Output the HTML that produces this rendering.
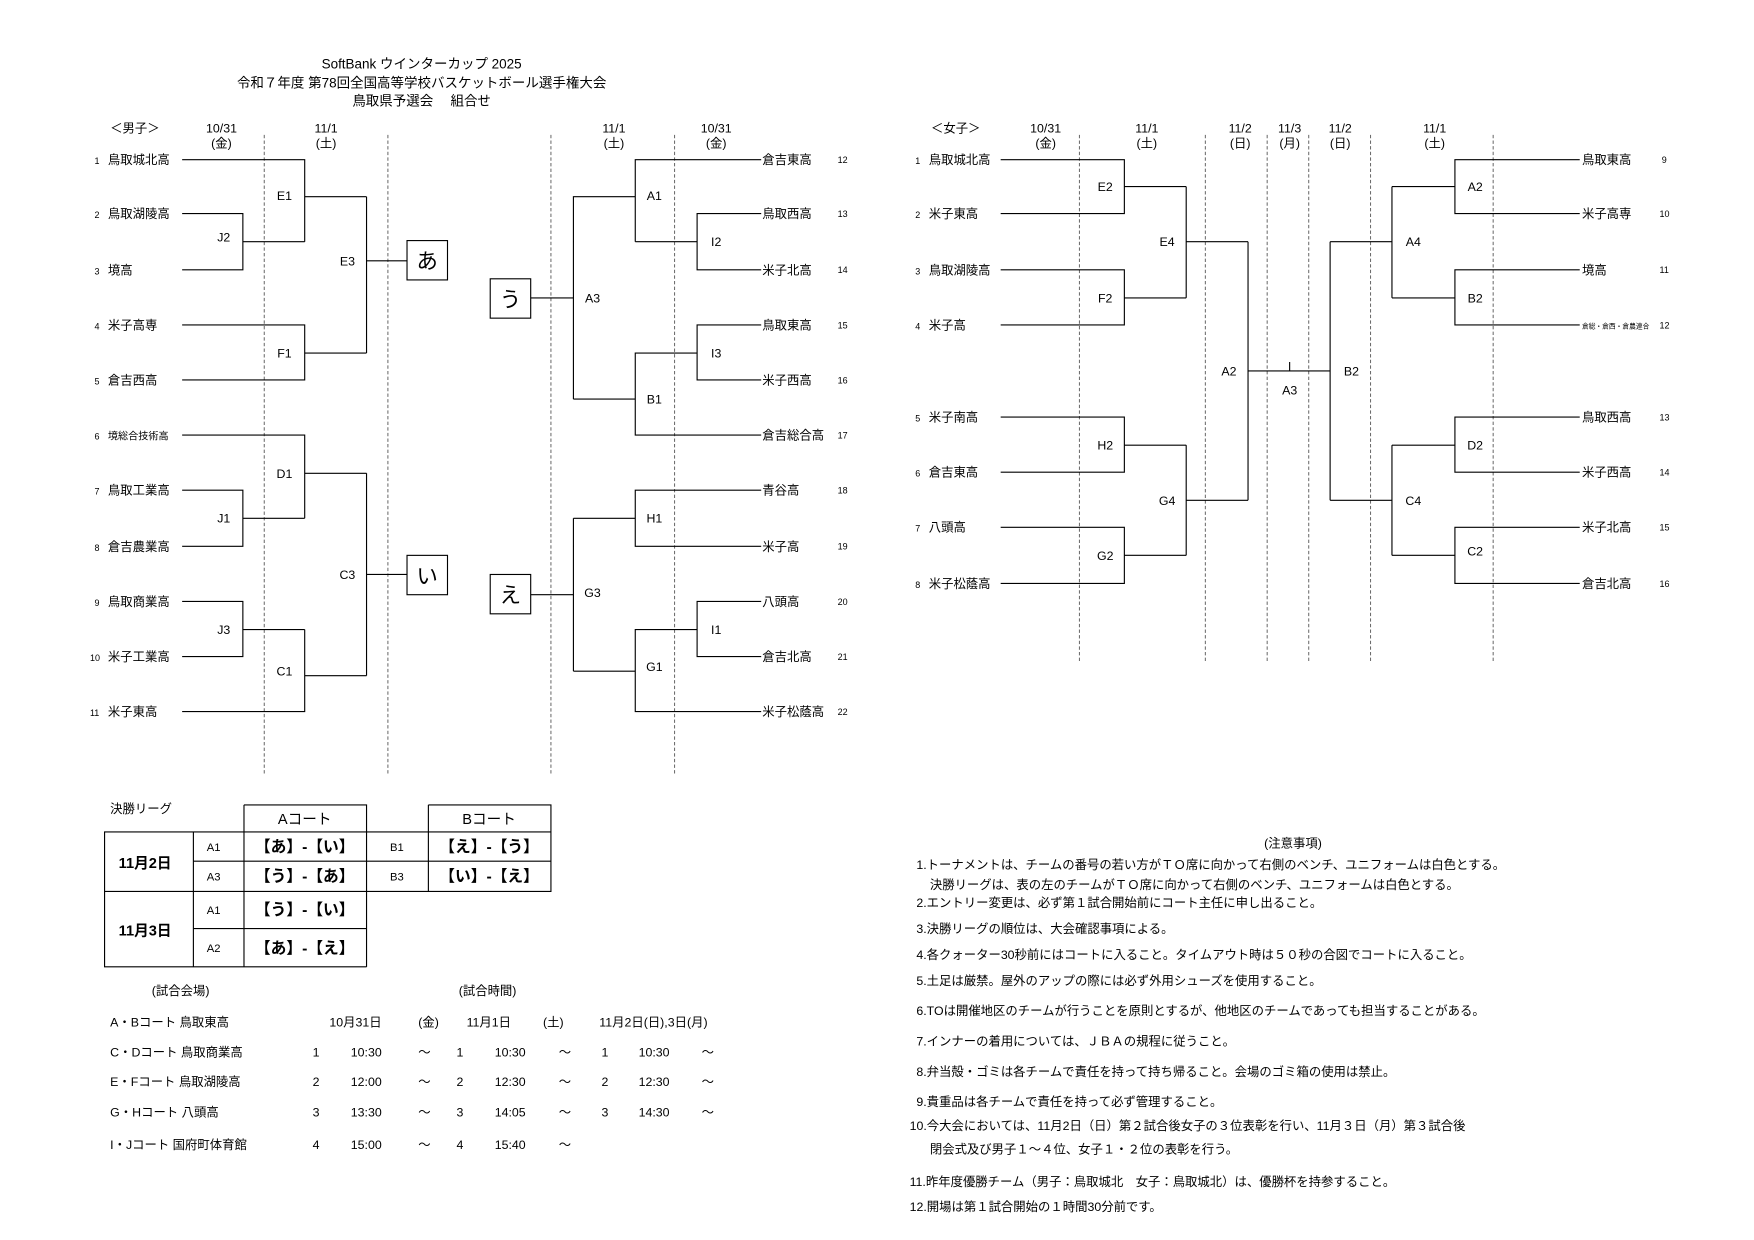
<!DOCTYPE html>
<html><head><meta charset="utf-8"><style>
html,body{margin:0;padding:0;background:#fff;}
svg{display:block}
text{font-family:"Liberation Sans","Noto Sans CJK JP",sans-serif;fill:#000;}
.s{font-size:11px}
.t{font-size:10px}
.m{font-size:8px}
.l{stroke:#000;stroke-width:1;fill:none}
.d{stroke:#555;stroke-width:0.8;stroke-dasharray:3,2;fill:none}
</style></head><body>
<svg width="1754" height="1240" viewBox="0 0 1560 1103" preserveAspectRatio="none" xmlns="http://www.w3.org/2000/svg">
<g text-anchor="middle" font-size="12">
<text x="375" y="61">SoftBank ウインターカップ 2025</text>
<text x="375" y="78">令和７年度 第78回全国高等学校バスケットボール選手権大会</text>
<text x="375" y="94">鳥取県予選会　 組合せ</text>
</g>
<!-- men headers -->
<g class="s" text-anchor="middle">
<text x="120" y="118">＜男子＞</text>
<text x="197" y="118">10/31</text><text x="197" y="131">(金)</text>
<text x="290" y="118">11/1</text><text x="290" y="131">(土)</text>
<text x="546" y="118">11/1</text><text x="546" y="131">(土)</text>
<text x="637" y="118">10/31</text><text x="637" y="131">(金)</text>
</g>
<g class="d">
<line x1="235" y1="120" x2="235" y2="690"/><line x1="345" y1="120" x2="345" y2="690"/>
<line x1="490" y1="120" x2="490" y2="690"/><line x1="600" y1="120" x2="600" y2="690"/>
</g>
<!-- men left -->
<g class="s">
<text x="84" y="146" class="m">1</text><text x="96" y="146">鳥取城北高</text>
<text x="84" y="194" class="m">2</text><text x="96" y="194">鳥取湖陵高</text>
<text x="84" y="244" class="m">3</text><text x="96" y="244">境高</text>
<text x="84" y="293" class="m">4</text><text x="96" y="293">米子高専</text>
<text x="84" y="342" class="m">5</text><text x="96" y="342">倉吉西高</text>
<text x="84" y="391" class="m">6</text><text x="96" y="391" font-size="9">境総合技術高</text>
<text x="84" y="440" class="m">7</text><text x="96" y="440">鳥取工業高</text>
<text x="84" y="490" class="m">8</text><text x="96" y="490">倉吉農業高</text>
<text x="84" y="539" class="m">9</text><text x="96" y="539">鳥取商業高</text>
<text x="80" y="588" class="m">10</text><text x="96" y="588">米子工業高</text>
<text x="80" y="637" class="m">11</text><text x="96" y="637">米子東高</text>
</g>
<path class="l" d="M162 142H271V215 M162 190H216V240H162 M216 215H271 M271 175H326 M162 289H271V338H162 M271 314H326 M326 175V314 M326 232H362
M162 387H271V461 M162 436H216V486H162 M216 461H271 M271 421H326
M162 535H216V584H162 M216 560H271 M162 633H271V560 M271 601H326 M326 421V601 M326 511H362"/>
<rect x="362" y="214" width="36" height="35" class="l"/>
<rect x="362" y="494" width="36" height="35" class="l"/>
<text x="380" y="239" font-size="19" text-anchor="middle">あ</text>
<text x="380" y="519" font-size="19" text-anchor="middle">い</text>
<g class="s" text-anchor="middle">
<text x="253" y="178">E1</text><text x="199" y="215">J2</text><text x="309" y="236">E3</text><text x="253" y="318">F1</text>
<text x="253" y="425">D1</text><text x="199" y="465">J1</text><text x="309" y="515">C3</text><text x="199" y="564">J3</text><text x="253" y="601">C1</text>
</g>
<!-- men right -->
<path class="l" d="M677 142H565V215 M677 190H620V240H677 M620 215H565 M565 175H510V355 M677 289H620V338H677 M620 314H565V387H677 M565 355H510 M472 265H510
M677 436H565V486H677 M565 461H510 M677 535H620V584H677 M620 560H565V633H677 M565 597H510 M510 461V597 M472 529H510"/>
<rect x="436" y="248" width="36" height="35" class="l"/>
<rect x="436" y="511" width="36" height="35" class="l"/>
<text x="454" y="273" font-size="19" text-anchor="middle">う</text>
<text x="454" y="536" font-size="19" text-anchor="middle">え</text>
<g class="s" text-anchor="middle">
<text x="582" y="178">A1</text><text x="637" y="219">I2</text><text x="527" y="269">A3</text><text x="637" y="318">I3</text><text x="582" y="359">B1</text>
<text x="582" y="465">H1</text><text x="527" y="531">G3</text><text x="637" y="564">I1</text><text x="582" y="597">G1</text>
</g>
<g class="s">
<text x="678" y="146">倉吉東高</text><text x="678" y="194">鳥取西高</text><text x="678" y="244">米子北高</text><text x="678" y="293">鳥取東高</text>
<text x="678" y="342">米子西高</text><text x="678" y="391">倉吉総合高</text><text x="678" y="440">青谷高</text><text x="678" y="490">米子高</text>
<text x="678" y="539">八頭高</text><text x="678" y="588">倉吉北高</text><text x="678" y="637">米子松蔭高</text>
</g>
<g class="m">
<text x="745" y="145">12</text><text x="745" y="193">13</text><text x="745" y="243">14</text><text x="745" y="292">15</text><text x="745" y="341">16</text><text x="745" y="390">17</text>
<text x="745" y="439">18</text><text x="745" y="489">19</text><text x="745" y="538">20</text><text x="745" y="587">21</text><text x="745" y="636">22</text>
</g>
<!-- women -->
<g class="s" text-anchor="middle">
<text x="850" y="118">＜女子＞</text>
<text x="930" y="118">10/31</text><text x="930" y="131">(金)</text>
<text x="1020" y="118">11/1</text><text x="1020" y="131">(土)</text>
<text x="1103" y="118">11/2</text><text x="1103" y="131">(日)</text>
<text x="1147" y="118">11/3</text><text x="1147" y="131">(月)</text>
<text x="1192" y="118">11/2</text><text x="1192" y="131">(日)</text>
<text x="1276" y="118">11/1</text><text x="1276" y="131">(土)</text>
</g>
<g class="d">
<line x1="960" y1="120" x2="960" y2="590"/><line x1="1072" y1="120" x2="1072" y2="590"/><line x1="1127" y1="120" x2="1127" y2="590"/>
<line x1="1164" y1="120" x2="1164" y2="590"/><line x1="1219" y1="120" x2="1219" y2="590"/><line x1="1328" y1="120" x2="1328" y2="590"/>
</g>
<path class="l" d="M890 142H1000V190H890 M1000 166H1055 M890 240H1000V289H890 M1000 265H1055 M1055 166V265 M1055 215H1110
M890 371H1000V420H890 M1000 396H1055 M890 469H1000V519H890 M1000 494H1055 M1055 396V494 M1055 445H1110 M1110 215V445 M1110 330H1183 M1147 322V330
M1183 215V445 M1183 215H1238 M1183 445H1238 M1238 166V265 M1238 166H1294 M1238 265H1294 M1405 142H1294V190H1405 M1405 240H1294V289H1405
M1238 396V494 M1238 396H1294 M1238 494H1294 M1405 371H1294V420H1405 M1405 469H1294V519H1405"/>
<g class="s" text-anchor="middle">
<text x="983" y="170">E2</text><text x="983" y="269">F2</text><text x="1038" y="219">E4</text>
<text x="983" y="400">H2</text><text x="983" y="498">G2</text><text x="1038" y="449">G4</text>
<text x="1093" y="334">A2</text><text x="1147" y="351">A3</text><text x="1202" y="334">B2</text>
<text x="1257" y="219">A4</text><text x="1312" y="170">A2</text><text x="1312" y="269">B2</text>
<text x="1312" y="400">D2</text><text x="1257" y="449">C4</text><text x="1312" y="494">C2</text>
</g>
<g class="s">
<text x="814" y="146" class="m">1</text><text x="826" y="146">鳥取城北高</text>
<text x="814" y="194" class="m">2</text><text x="826" y="194">米子東高</text>
<text x="814" y="244" class="m">3</text><text x="826" y="244">鳥取湖陵高</text>
<text x="814" y="293" class="m">4</text><text x="826" y="293">米子高</text>
<text x="814" y="375" class="m">5</text><text x="826" y="375">米子南高</text>
<text x="814" y="424" class="m">6</text><text x="826" y="424">倉吉東高</text>
<text x="814" y="473" class="m">7</text><text x="826" y="473">八頭高</text>
<text x="814" y="523" class="m">8</text><text x="826" y="523">米子松蔭高</text>
<text x="1407" y="146">鳥取東高</text><text x="1407" y="194">米子高専</text><text x="1407" y="244">境高</text>
<text x="1407" y="292" font-size="6">倉総・倉西・倉農連合</text>
<text x="1407" y="375">鳥取西高</text><text x="1407" y="424">米子西高</text><text x="1407" y="473">米子北高</text><text x="1407" y="523">倉吉北高</text>
</g>
<g class="m">
<text x="1478" y="145">9</text><text x="1476" y="193">10</text><text x="1476" y="243">11</text><text x="1476" y="292">12</text>
<text x="1476" y="374">13</text><text x="1476" y="423">14</text><text x="1476" y="472">15</text><text x="1476" y="522">16</text>
</g>
<!-- table -->
<text x="98" y="723" class="s">決勝リーグ</text>
<path class="l" d="M217 716H326V740 M217 716V740 M381 716H490V740 M381 716V740
M93 740H490V793H93Z M172 740V860 M217 740V860 M326 740V860 M381 740V793 M172 766H490 M93 793V860H326 M93 793H326 M172 826H326"/>
<g text-anchor="middle">
<text x="271" y="733" font-size="13">Aコート</text><text x="435" y="733" font-size="13">Bコート</text>
<text x="129" y="772" font-size="13" font-weight="bold">11月2日</text>
<text x="129" y="832" font-size="13" font-weight="bold">11月3日</text>
<g font-size="10"><text x="190" y="757">A1</text><text x="190" y="783">A3</text><text x="353" y="757">B1</text><text x="353" y="783">B3</text><text x="190" y="813">A1</text><text x="190" y="847">A2</text></g>
<g font-size="14" font-weight="bold">
<text x="271" y="758">【あ】-【い】</text><text x="271" y="784">【う】-【あ】</text>
<text x="435" y="758">【え】-【う】</text><text x="435" y="784">【い】-【え】</text>
<text x="271" y="814">【う】-【い】</text><text x="271" y="848">【あ】-【え】</text>
</g>
</g>
<g class="s">
<text x="135" y="885">(試合会場)</text><text x="408" y="885">(試合時間)</text>
<text x="98" y="913">A・Bコート 鳥取東高</text>
<text x="98" y="940">C・Dコート 鳥取商業高</text>
<text x="98" y="966">E・Fコート 鳥取湖陵高</text>
<text x="98" y="993">G・Hコート 八頭高</text>
<text x="98" y="1022">I・Jコート 国府町体育館</text>
<text x="293" y="913">10月31日</text><text x="372" y="913">(金)</text><text x="415" y="913">11月1日</text><text x="483" y="913">(土)</text><text x="533" y="913">11月2日(日),3日(月)</text>
<text x="278" y="940">1</text><text x="312" y="940">10:30</text><text x="372" y="940">〜</text><text x="406" y="940">1</text><text x="440" y="940">10:30</text><text x="497" y="940">〜</text><text x="535" y="940">1</text><text x="568" y="940">10:30</text><text x="624" y="940">〜</text>
<text x="278" y="966">2</text><text x="312" y="966">12:00</text><text x="372" y="966">〜</text><text x="406" y="966">2</text><text x="440" y="966">12:30</text><text x="497" y="966">〜</text><text x="535" y="966">2</text><text x="568" y="966">12:30</text><text x="624" y="966">〜</text>
<text x="278" y="993">3</text><text x="312" y="993">13:30</text><text x="372" y="993">〜</text><text x="406" y="993">3</text><text x="440" y="993">14:05</text><text x="497" y="993">〜</text><text x="535" y="993">3</text><text x="568" y="993">14:30</text><text x="624" y="993">〜</text>
<text x="278" y="1022">4</text><text x="312" y="1022">15:00</text><text x="372" y="1022">〜</text><text x="406" y="1022">4</text><text x="440" y="1022">15:40</text><text x="497" y="1022">〜</text>
</g>
<!-- notes -->
<g class="s">
<text x="1150" y="754" text-anchor="middle">(注意事項)</text>
<text x="815" y="773">1.トーナメントは、チームの番号の若い方がＴＯ席に向かって右側のベンチ、ユニフォームは白色とする。</text>
<text x="827" y="791">決勝リーグは、表の左のチームがＴＯ席に向かって右側のベンチ、ユニフォームは白色とする。</text>
<text x="815" y="807">2.エントリー変更は、必ず第１試合開始前にコート主任に申し出ること。</text>
<text x="815" y="830">3.決勝リーグの順位は、大会確認事項による。</text>
<text x="815" y="853">4.各クォーター30秒前にはコートに入ること。タイムアウト時は５０秒の合図でコートに入ること。</text>
<text x="815" y="876">5.土足は厳禁。屋外のアップの際には必ず外用シューズを使用すること。</text>
<text x="815" y="903">6.TOは開催地区のチームが行うことを原則とするが、他地区のチームであっても担当することがある。</text>
<text x="815" y="930">7.インナーの着用については、ＪＢＡの規程に従うこと。</text>
<text x="815" y="957">8.弁当殻・ゴミは各チームで責任を持って持ち帰ること。会場のゴミ箱の使用は禁止。</text>
<text x="815" y="984">9.貴重品は各チームで責任を持って必ず管理すること。</text>
<text x="809" y="1005">10.今大会においては、11月2日（日）第２試合後女子の３位表彰を行い、11月３日（月）第３試合後</text>
<text x="827" y="1026">閉会式及び男子１〜４位、女子１・２位の表彰を行う。</text>
<text x="809" y="1055">11.昨年度優勝チーム（男子：鳥取城北　女子：鳥取城北）は、優勝杯を持参すること。</text>
<text x="809" y="1077">12.開場は第１試合開始の１時間30分前です。</text>
</g>
</svg>
</body></html>
